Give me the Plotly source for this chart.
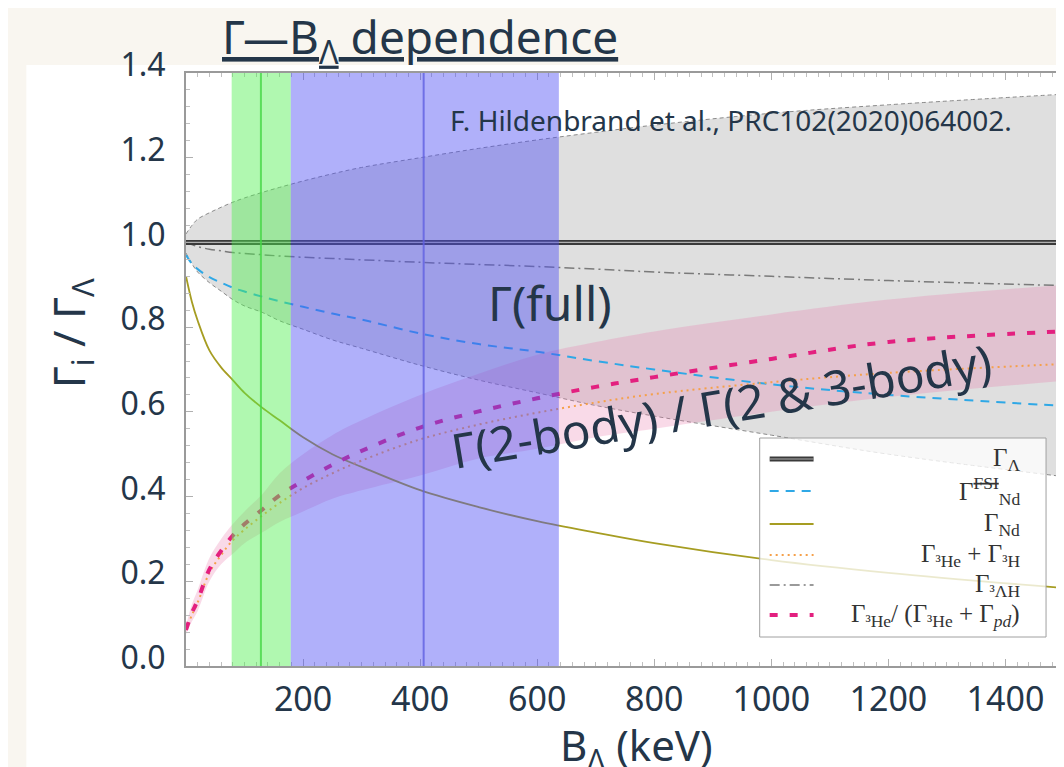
import plotly.graph_objects as go

# ---------------- data ----------------
B_keV = [0, 10, 20, 40, 60, 80, 100, 130, 160, 200, 250, 300, 400, 500, 600, 700, 800, 1000, 1200, 1500]

gamma_lambda = [1.0] * len(B_keV)
gamma_nd_fsi = [0.970, 0.950, 0.937, 0.918, 0.905, 0.893, 0.884, 0.872, 0.861, 0.848, 0.832, 0.818,
                0.785, 0.760, 0.742, 0.720, 0.700, 0.665, 0.640, 0.614]
gamma_nd = [0.920, 0.860, 0.815, 0.745, 0.705, 0.675, 0.645, 0.610, 0.580, 0.540, 0.500, 0.470,
            0.415, 0.375, 0.342, 0.315, 0.290, 0.250, 0.220, 0.184]
gamma_he_h = [0.085, 0.120, 0.150, 0.220, 0.262, 0.297, 0.322, 0.355, 0.385, 0.420, 0.455, 0.485,
              0.535, 0.570, 0.598, 0.622, 0.642, 0.670, 0.692, 0.713]
gamma_hyp = [1.000, 0.995, 0.990, 0.984, 0.980, 0.976, 0.974, 0.971, 0.968, 0.965, 0.962, 0.959,
             0.953, 0.948, 0.943, 0.937, 0.930, 0.920, 0.910, 0.898]
ratio_he = [0.085, 0.125, 0.155, 0.228, 0.272, 0.308, 0.335, 0.369, 0.403, 0.437, 0.475, 0.508,
            0.563, 0.601, 0.632, 0.659, 0.682, 0.725, 0.765, 0.790]
ratio_upper = [0.095, 0.145, 0.180, 0.255, 0.300, 0.335, 0.365, 0.405, 0.455, 0.500, 0.545, 0.580,
               0.640, 0.690, 0.735, 0.765, 0.790, 0.830, 0.865, 0.900]
ratio_lower = [0.075, 0.105, 0.130, 0.200, 0.240, 0.265, 0.290, 0.315, 0.340, 0.365, 0.395, 0.415,
               0.450, 0.490, 0.513, 0.540, 0.560, 0.600, 0.635, 0.673]
full_upper = [1.020, 1.040, 1.055, 1.070, 1.083, 1.095, 1.105, 1.118, 1.130, 1.145, 1.162, 1.177,
              1.200, 1.222, 1.242, 1.260, 1.277, 1.305, 1.325, 1.350]
full_lower = [0.975, 0.950, 0.930, 0.905, 0.885, 0.865, 0.850, 0.835, 0.815, 0.795, 0.770, 0.750,
              0.710, 0.675, 0.645, 0.615, 0.590, 0.545, 0.500, 0.447]

# experimental B_Lambda ranges (keV): [low, high, central]
green_range = [78, 179, 128]
blue_range = [179, 637, 406]

x_ticks = [200, 400, 600, 800, 1000, 1200, 1400]
y_ticks = [0.0, 0.2, 0.4, 0.6, 0.8, 1.0, 1.2, 1.4]

legend_labels = [
    "Γ<sub>Λ</sub>",
    "Γ<sup><s>FSI</s></sup><sub>Nd</sub>",
    "Γ<sub>Nd</sub>",
    "Γ<sub>³He</sub> + Γ<sub>³H</sub>",
    "Γ<sub>³ΛH</sub>",
    "Γ<sub>³He</sub>/ (Γ<sub>³He</sub> + Γ<sub><i>pd</i></sub>)",
]

# ---------------- styling ----------------
NAVY = "#243649"
W, H = 1064, 767
L, R, T, Bm = 178, 6, 65, 109
PW, PH = W - L - R, H - T - Bm


def xp(px):
    return (px - L) / PW


def yp(py):
    return (H - Bm - py) / PH


fig = go.Figure()

# gray band (full width uncertainty)
fig.add_trace(go.Scatter(x=B_keV, y=full_lower, mode="lines",
                         line=dict(color="#8a8a8a", width=1, dash="4px,3px", shape="spline"),
                         showlegend=False, hoverinfo="skip"))
fig.add_trace(go.Scatter(x=B_keV, y=full_upper, mode="lines", fill="tonexty",
                         fillcolor="rgba(150,150,150,0.30)",
                         line=dict(color="#8a8a8a", width=1, dash="4px,3px", shape="spline"),
                         showlegend=False, hoverinfo="skip"))
# pink band (ratio uncertainty)
fig.add_trace(go.Scatter(x=B_keV, y=ratio_lower, mode="lines",
                         line=dict(color="rgba(0,0,0,0)", width=0, shape="spline"),
                         showlegend=False, hoverinfo="skip"))
fig.add_trace(go.Scatter(x=B_keV, y=ratio_upper, mode="lines", fill="tonexty",
                         fillcolor="rgba(232,120,170,0.27)",
                         line=dict(color="rgba(0,0,0,0)", width=0, shape="spline"),
                         showlegend=False, hoverinfo="skip"))

# curves
fig.add_trace(go.Scatter(x=B_keV, y=gamma_hyp, mode="lines",
                         line=dict(color="#7a7a7a", width=1.5, dash="10px,4px,2px,4px", shape="spline"),
                         showlegend=False))
fig.add_trace(go.Scatter(x=B_keV, y=gamma_nd_fsi, mode="lines",
                         line=dict(color="#2fa8e6", width=2, dash="9px,7px", shape="spline"),
                         showlegend=False))
fig.add_trace(go.Scatter(x=B_keV, y=gamma_nd, mode="lines",
                         line=dict(color="#a69d22", width=1.8, shape="spline"),
                         showlegend=False))
fig.add_trace(go.Scatter(x=B_keV, y=gamma_he_h, mode="lines",
                         line=dict(color="#f5a04a", width=2, dash="2px,4px", shape="spline"),
                         showlegend=False))
fig.add_trace(go.Scatter(x=B_keV, y=ratio_he, mode="lines",
                         line=dict(color="#e3207f", width=4, dash="8px,12px", shape="spline"),
                         showlegend=False))
fig.add_trace(go.Scatter(x=B_keV, y=gamma_lambda, mode="lines",
                         line=dict(color="#3a3a3a", width=5), showlegend=False))
fig.add_trace(go.Scatter(x=B_keV, y=gamma_lambda, mode="lines",
                         line=dict(color="#b0b0b0", width=1.2), showlegend=False))

shapes = []
# white slide panel
shapes.append(dict(type="rect", xref="paper", yref="paper", x0=xp(18), x1=xp(1061), y0=yp(780), y1=yp(57),
                   fillcolor="white", line=dict(width=0), layer="below"))
# vertical experimental bands (drawn over the curves, translucent)
shapes.append(dict(type="rect", xref="x", yref="y domain", x0=green_range[0], x1=green_range[1], y0=0, y1=1,
                   fillcolor="rgba(80,240,80,0.45)", line=dict(width=0), layer="above"))
shapes.append(dict(type="rect", xref="x", yref="y domain", x0=blue_range[0], x1=blue_range[1], y0=0, y1=1,
                   fillcolor="rgba(80,80,245,0.45)", line=dict(width=0), layer="above"))
shapes.append(dict(type="line", xref="x", yref="y domain", x0=green_range[2], x1=green_range[2], y0=0, y1=1,
                   line=dict(color="rgba(70,215,70,0.8)", width=2), layer="above"))
shapes.append(dict(type="line", xref="x", yref="y domain", x0=blue_range[2], x1=blue_range[2], y0=0, y1=1,
                   line=dict(color="rgba(95,95,225,0.8)", width=2), layer="above"))

# legend box
shapes.append(dict(type="rect", xref="paper", yref="paper", x0=xp(753), x1=xp(1040), y0=yp(629), y1=yp(430),
                   fillcolor="rgba(255,255,255,0.78)", line=dict(color="#a0a0a0", width=1), layer="above"))
leg_y = [451, 483, 516, 547, 577, 607]
leg_styles = [
    dict(color="#3a3a3a", width=5, dash="solid"),
    dict(color="#2fa8e6", width=2, dash="9px,7px"),
    dict(color="#a69d22", width=2, dash="solid"),
    dict(color="#f5a04a", width=2, dash="2px,4px"),
    dict(color="#7a7a7a", width=1.5, dash="10px,4px,2px,4px"),
    dict(color="#e3207f", width=4, dash="8px,12px"),
]
for yy, st in zip(leg_y, leg_styles):
    shapes.append(dict(type="line", xref="paper", yref="paper", x0=xp(763), x1=xp(807), y0=yp(yy), y1=yp(yy),
                       line=st, layer="above"))
shapes.append(dict(type="line", xref="paper", yref="paper", x0=xp(763), x1=xp(807), y0=yp(leg_y[0]),
                   y1=yp(leg_y[0]), line=dict(color="#b0b0b0", width=1.2), layer="above"))

annotations = []
for yy, lab in zip(leg_y, legend_labels):
    annotations.append(dict(xref="paper", yref="paper", x=xp(1016), y=yp(yy), text=lab, showarrow=False,
                            xanchor="right", yanchor="middle",
                            font=dict(family="Liberation Serif, DejaVu Serif, serif", size=25, color="#333333")))

annotations += [
    dict(xref="paper", yref="paper", x=xp(413), y=yp(31), text="<u>Γ—B<sub>Λ</sub> dependence</u>",
         showarrow=False, xanchor="center", yanchor="middle",
         font=dict(family="Noto Sans", size=46, color=NAVY)),
    dict(xref="paper", yref="paper", x=xp(441), y=yp(112), text="F. Hildenbrand et al., PRC102(2020)064002.",
         showarrow=False, xanchor="left", yanchor="middle",
         font=dict(family="Noto Sans", size=28, color=NAVY)),
    dict(xref="paper", yref="paper", x=xp(543), y=yp(294), text="Γ(full)",
         showarrow=False, xanchor="center", yanchor="middle",
         font=dict(family="Noto Sans", size=48, color=NAVY)),
    dict(xref="paper", yref="paper", x=xp(715), y=yp(398), text="Γ(2-body) / Γ(2 &amp; 3-body)",
         showarrow=False, xanchor="center", yanchor="middle", textangle=-9.5,
         font=dict(family="Noto Sans", size=48, color=NAVY)),
    dict(xref="paper", yref="paper", x=xp(62), y=yp(325), text="Γ<sub>i</sub> / Γ<sub>Λ</sub>",
         showarrow=False, xanchor="center", yanchor="middle", textangle=-90,
         font=dict(family="Noto Sans", size=44, color=NAVY)),
    dict(xref="paper", yref="paper", x=xp(630), y=yp(739), text="B<sub>Λ</sub> (keV)",
         showarrow=False, xanchor="center", yanchor="middle",
         font=dict(family="Noto Sans", size=42, color=NAVY)),
]

fig.update_layout(
    width=W, height=H,
    margin=dict(l=L, r=R, t=T, b=Bm),
    paper_bgcolor="#f9f6f0",
    plot_bgcolor="white",
    shapes=shapes,
    annotations=annotations,
    showlegend=False,
    xaxis=dict(range=[0, 1500], tickvals=x_ticks, ticktext=[str(v) for v in x_ticks],
               showgrid=False, zeroline=False, showline=True, linecolor="#9a9a9a", linewidth=2,
               mirror="ticks", ticks="inside", ticklen=7, tickcolor="#b0b0b0",
               minor=dict(dtick=20, tick0=0, ticks="inside", ticklen=4, tickcolor="#c0c0c0"),
               ticklabelstandoff=2,
               tickfont=dict(family="Noto Sans", size=34, color=NAVY)),
    yaxis=dict(range=[0, 1.4], tickvals=y_ticks, ticktext=[f"{v:.1f}" for v in y_ticks],
               showgrid=False, zeroline=False, showline=True, linecolor="#9a9a9a", linewidth=2,
               mirror="ticks", ticks="inside", ticklen=7, tickcolor="#b0b0b0",
               minor=dict(dtick=0.04, tick0=0, ticks="inside", ticklen=4, tickcolor="#c0c0c0"),
               ticklabelstandoff=12, ticklabelshift=-8,
               tickfont=dict(family="Noto Sans", size=32, color=NAVY)),
)

fig.write_html("out.html")
